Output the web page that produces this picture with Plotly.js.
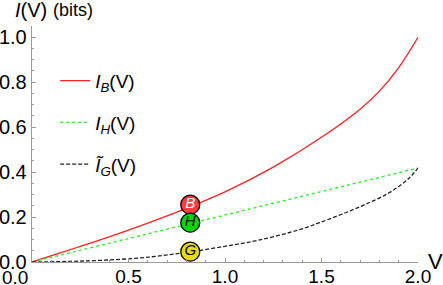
<!DOCTYPE html>
<html><head><meta charset="utf-8">
<script src="https://cdn.plot.ly/plotly-3.0.1.min.js"></script>
<style>html,body{margin:0;padding:0;background:#fff}#c{width:443px;height:285px}</style>
</head><body><div id="c"></div>
<script>
// Data
var vB = [0, 0.25, 0.5, 0.75, 1.0, 1.25, 1.5, 1.7, 1.8, 1.9, 2.0];
var iB = [0, 0.069, 0.142, 0.222, 0.312, 0.422, 0.555, 0.68, 0.76, 0.865, 1.0];
var vH = [0, 0.5, 1.0, 1.5, 2.0];
var iH = [0, 0.105, 0.21, 0.314, 0.418];
var vG = [0, 0.25, 0.5, 0.66, 0.82, 1.0, 1.18, 1.39, 1.49, 1.70, 1.85, 1.95, 2.0];
var iG = [0, 0.004, 0.014, 0.027, 0.045, 0.07, 0.098, 0.145, 0.175, 0.246, 0.308, 0.37, 0.418];
var markerV = [0.82, 0.82, 0.82];
var markerI = [0.255, 0.175, 0.046];
var markerText = ['<i>B</i>', '<i>H</i>', '<i>G</i>'];
var markerFill = ['#ff3c3c', '#00d800', '#e6dc00'];
var markerTextColor = ['#ffffff', '#000000', '#000000'];
var legendNames = ['<i>I</i><sub><i>B</i></sub>(V)', '<i>I</i><sub><i>H</i></sub>(V)', '<i>Ĩ</i><sub><i>G</i></sub>(V)'];
var xTickVals = [0.5, 1.0, 1.5, 2.0];
var xTickText = ['0.5', '1.0', '1.5', '2.0'];
var yTickVals = [0, 0.2, 0.4, 0.6, 0.8, 1.0];
var yTickText = ['0.0', '0.2', '0.4', '0.6', '0.8', '1.0'];

var FONT = 'Liberation Sans, Arial, sans-serif';
var traces = [
  {x: vB, y: iB, mode: 'lines', name: legendNames[0], legendgroup: 'a',
   line: {color: '#ff2020', width: 1.3, shape: 'spline', smoothing: 1}},
  {x: vH, y: iH, mode: 'lines', name: legendNames[1], legendgroup: 'b',
   line: {color: '#22ee22', width: 1.3, dash: 'dot'}},
  {x: vG, y: iG, mode: 'lines', name: legendNames[2], legendgroup: 'c',
   line: {color: '#222222', width: 1.3, dash: '4px,2px', shape: 'spline', smoothing: 1}},
  {x: markerV, y: markerI, mode: 'markers+text', showlegend: false,
   text: markerText, textposition: 'middle center',
   textfont: {family: FONT, size: 15, color: markerTextColor},
   marker: {size: 19, color: markerFill, line: {color: '#000', width: 1.3}},
   cliponaxis: false}
];
var layout = {
  width: 443, height: 285,
  margin: {l: 32, r: 25, t: 26, b: 23},
  paper_bgcolor: '#fff', plot_bgcolor: '#fff',
  font: {family: FONT, size: 20, color: '#000'},
  showlegend: true,
  legend: {x: 0.06, y: 0.848, xanchor: 'left', yanchor: 'top',
           font: {family: FONT, size: 19, color: '#000'},
           traceorder: 'grouped', tracegroupgap: 14, bgcolor: 'rgba(0,0,0,0)'},
  xaxis: {range: [0, 2.0], showline: true, linecolor: '#9a9a9a', linewidth: 1.3,
          showgrid: false, zeroline: false, ticks: 'inside', ticklen: 4, tickwidth: 1,
          tickcolor: '#9a9a9a', tickvals: xTickVals, ticktext: xTickText,
          tickfont: {family: FONT, size: 19}, ticklabelstandoff: -3,
          minor: {dtick: 0.1, ticks: 'inside', ticklen: 2, tickcolor: '#9a9a9a', showgrid: false}},
  yaxis: {range: [0, 1.05], showline: true, linecolor: '#9a9a9a', linewidth: 1.3,
          showgrid: false, zeroline: false, ticks: 'inside', ticklen: 4, tickwidth: 1,
          tickcolor: '#9a9a9a', tickvals: yTickVals, ticktext: yTickText,
          tickfont: {family: FONT, size: 20},
          minor: {dtick: 0.05, ticks: 'inside', ticklen: 2, tickcolor: '#9a9a9a', showgrid: false}},
  annotations: [
    {xref: 'paper', yref: 'paper', x: 0, y: 0, xanchor: 'center', yanchor: 'top',
     xshift: -17, yshift: -3, text: '0.0', showarrow: false,
     font: {family: FONT, size: 19}},
    {xref: 'paper', yref: 'paper', x: 1, y: 0, xanchor: 'left', yanchor: 'middle',
     xshift: 8, yshift: 1, text: 'V', showarrow: false,
     font: {family: FONT, size: 22}},
    {xref: 'paper', yref: 'paper', x: 0, y: 1, xanchor: 'left', yanchor: 'bottom',
     xshift: -19, yshift: 3, text: '<i>I</i>(V)',
     showarrow: false, font: {family: FONT, size: 20}},
    {xref: 'paper', yref: 'paper', x: 0, y: 1, xanchor: 'left', yanchor: 'bottom',
     xshift: 19, yshift: 4, text: '(bits)',
     showarrow: false, font: {family: FONT, size: 18}}
  ]
};
Plotly.newPlot('c', traces, layout, {staticPlot: true, displayModeBar: false});
</script></body></html>
